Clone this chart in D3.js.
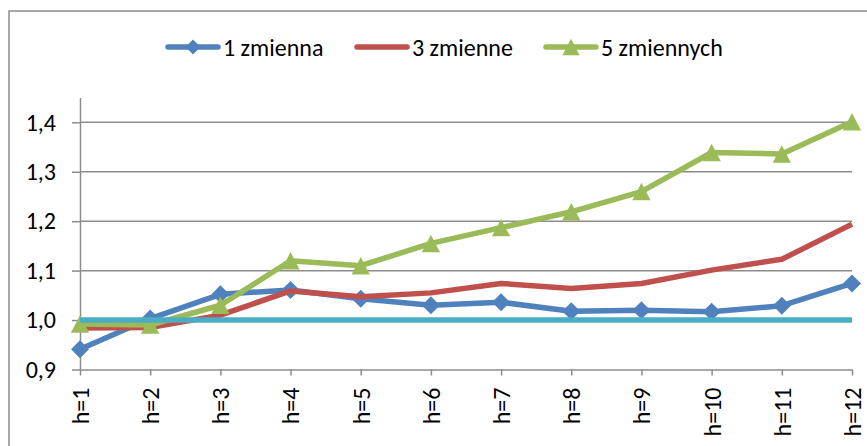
<!DOCTYPE html>
<html>
<head>
<meta charset="utf-8">
<script src="https://cdn.jsdelivr.net/npm/d3@7"></script>
<style>
  html, body { margin: 0; padding: 0; background: #fff; }
  svg { display: block; }
  text { font-family: Calibri, Carlito, Lato, sans-serif; fill: #000; }
</style>
</head>
<body>
<svg id="chart" width="867" height="446"></svg>
<script>
// Forecast horizons
const horizons = ["h=1","h=2","h=3","h=4","h=5","h=6","h=7","h=8","h=9","h=10","h=11","h=12"];

// Ratio per horizon for each model variant
const oneVar   = [0.941, 1.003, 1.052, 1.061, 1.043, 1.030, 1.036, 1.018, 1.020, 1.017, 1.029, 1.074];
const threeVar = [0.984, 0.985, 1.010, 1.059, 1.047, 1.055, 1.074, 1.064, 1.074, 1.101, 1.123, 1.194];
const fiveVar  = [0.992, 0.990, 1.030, 1.120, 1.110, 1.155, 1.187, 1.219, 1.260, 1.339, 1.336, 1.401];
const reference = [1, 1, 1, 1, 1, 1, 1, 1, 1, 1, 1, 1];

// Series names
const seriesNames = ["1 zmienna", "3 zmienne", "5 zmiennych"];

// Value axis
const yDomain = [0.9, 1.45];
const yTicks = [0.9, 1.0, 1.1, 1.2, 1.3, 1.4];

const series = [
  { name: seriesNames[0], values: oneVar,   color: "#4F81BD", marker: "diamond" },
  { name: seriesNames[1], values: threeVar, color: "#C0504D", marker: null },
  { name: seriesNames[2], values: fiveVar,  color: "#9BBB59", marker: "triangle" },
  { name: null,           values: reference, color: "#4BACC6", marker: null }
];

const svg = d3.select("#chart");
const plot = { left: 80, right: 852, top: 97.6, bottom: 369.5 };
const gridColor = "#8c8c8c";
const fontSize = 24;

// Chart frame
svg.append("rect")
  .attr("x", 9).attr("y", 11)
  .attr("width", 900).attr("height", 500)
  .attr("fill", "none").attr("stroke", gridColor).attr("stroke-width", 1.5);

const x = d3.scalePoint().domain(horizons).range([plot.left, plot.right]);
const y = d3.scaleLinear().domain(yDomain).range([plot.bottom, plot.top]);

// Horizontal gridlines
svg.append("g")
  .selectAll("line")
  .data(yTicks.filter(v => v > yDomain[0]))
  .join("line")
  .attr("x1", plot.left).attr("x2", plot.right)
  .attr("y1", d => y(d)).attr("y2", d => y(d))
  .attr("stroke", gridColor).attr("stroke-width", 1.5);

// Y axis
const fmt = d => d3.format(".1f")(d).replace(".", ",");
const yAxis = svg.append("g")
  .attr("transform", `translate(${plot.left},0)`)
  .call(d3.axisLeft(y).tickValues(yTicks).tickFormat(fmt).tickSize(8).tickSizeOuter(0).tickPadding(16));
yAxis.selectAll("path, line").attr("stroke", gridColor).attr("stroke-width", 1.5);
yAxis.selectAll("text").style("font-size", fontSize + "px").attr("fill", "#000");

// X axis
const xAxis = svg.append("g")
  .attr("transform", `translate(0,${plot.bottom})`)
  .call(d3.axisBottom(x).tickSize(6).tickSizeOuter(0));
xAxis.selectAll("path, line").attr("stroke", gridColor).attr("stroke-width", 1.5);
xAxis.selectAll("text")
  .style("font-size", fontSize + "px")
  .attr("fill", "#000")
  .attr("text-anchor", "end")
  .attr("transform", "rotate(-90)")
  .attr("x", -18)
  .attr("y", 0)
  .attr("dy", "0.35em");

// Marker shapes
function markerPath(kind, s) {
  if (kind === "diamond") {
    return `M0,${-s}L${s},0L0,${s}L${-s},0Z`;
  }
  if (kind === "triangle") {
    return `M0,${-s}L${s * 1.05},${s}L${-s * 1.05},${s}Z`;
  }
  return null;
}

const line = d3.line()
  .x((d, i) => x(horizons[i]))
  .y(d => y(d));

// Series lines and markers, drawn in series order
series.forEach(s => {
  const g = svg.append("g");
  g.append("path")
    .datum(s.values)
    .attr("d", line)
    .attr("fill", "none")
    .attr("stroke", s.color)
    .attr("stroke-width", 5.5)
    .attr("stroke-linejoin", "round")
    .attr("stroke-linecap", "butt");
  if (s.marker) {
    g.selectAll("path.marker")
      .data(s.values)
      .join("path")
      .attr("class", "marker")
      .attr("transform", (d, i) => `translate(${x(horizons[i])},${y(d)})`)
      .attr("d", markerPath(s.marker, s.marker === "diamond" ? 9 : 8.7))
      .attr("fill", s.color);
  }
});

// Legend
const legendItems = series.filter(s => s.name);
const legendX = [168, 357, 546];
const legendY = 47;
const legend = svg.append("g");
legendItems.forEach((s, i) => {
  const g = legend.append("g").attr("transform", `translate(${legendX[i]},${legendY})`);
  g.append("line")
    .attr("x1", 0).attr("x2", 50)
    .attr("y1", 0).attr("y2", 0)
    .attr("stroke", s.color).attr("stroke-width", 5.5)
    .attr("stroke-linecap", "round");
  if (s.marker) {
    g.append("path")
      .attr("transform", "translate(25,0)")
      .attr("d", markerPath(s.marker, s.marker === "diamond" ? 7.5 : 8.2))
      .attr("fill", s.color);
  }
  g.append("text")
    .attr("x", 55).attr("y", 0)
    .attr("dy", "0.36em")
    .style("font-size", fontSize + "px")
    .text(s.name);
});
</script>
</body>
</html>
